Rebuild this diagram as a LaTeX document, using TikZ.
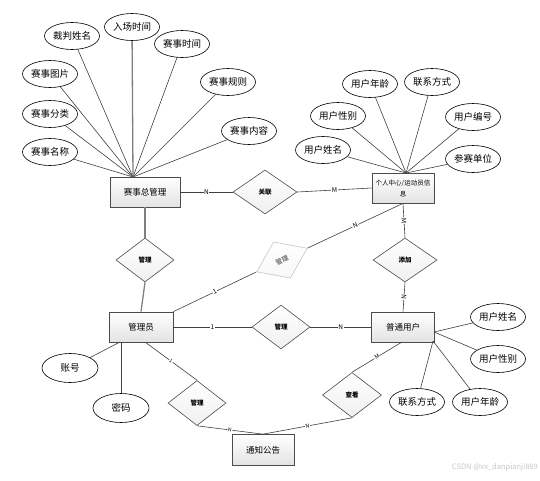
\documentclass[tikz,border=0pt]{standalone}
\usepackage{fontspec}
\setmainfont{Noto Sans CJK SC}
\usetikzlibrary{shapes.geometric}
\begin{document}
\begin{tikzpicture}[x=1pt,y=-1pt,
  attr/.style={ellipse,draw=black,line width=0.6pt,fill=white,minimum width=55pt,minimum height=27pt,inner sep=0pt,font=\fontsize{9.5}{10}\selectfont},
  ent/.style={rectangle,draw=gray!60!black,line width=0.7pt,top color=white,bottom color=gray!22,minimum width=64pt,minimum height=30pt,inner sep=1pt,font=\fontsize{8.5}{10}\selectfont},
  rel/.style={diamond,draw=gray!60!black,line width=0.6pt,top color=white,bottom color=gray!12,minimum width=60pt,minimum height=44pt,inner sep=0pt,aspect=1.35,font=\bfseries\fontsize{6.5}{7}\selectfont},
  ln/.style={draw=black!75,line width=0.6pt},
  thick ln/.style={draw=gray,line width=1.3pt},
  lab/.style={fill=white,inner sep=0.6pt,font=\fontsize{6.5}{7}\selectfont}
]
\useasboundingbox (0,0) rectangle (540,480);
\fill[white] (0,0) rectangle (540,480);

% entities
\node[ent,minimum width=70pt] (zg) at (145,192) {赛事总管理};
\node[ent,minimum width=62pt,align=center,font=\fontsize{6.5}{11}\selectfont] (gr) at (403,188) {个人中心/运动员信\\息};
\node[ent] (gly) at (141,327) {管理员};
\node[ent,minimum width=63pt] (pt) at (403,327) {普通用户};
\node[ent,minimum width=62pt,minimum height=31pt] (tz) at (263,450) {通知公告};

% relationships
\node[rel,minimum width=64pt] (gl1) at (265,192) {关联};
\node[rel,minimum width=58pt] (gl2) at (145,260) {管理};
\node[rel,minimum width=56pt,minimum height=40pt,rotate=25,draw=gray!45,top color=white,bottom color=gray!6,text=gray] (gl3) at (282,260) {管理};
\node[rel,minimum width=64pt] (tj) at (405,260) {添加};
\node[rel,minimum width=58pt] (gl4) at (281,327) {管理};
\node[rel,minimum width=58pt,minimum height=45pt] (gl5) at (197,403) {管理};
\node[rel,minimum width=59pt,minimum height=45pt] (ck) at (352,395) {查看};

% attributes of 赛事总管理
\coordinate (zgp) at (133,177);
\node[attr] (a1) at (72,36) {裁判姓名};
\node[attr] (a2) at (132,27) {入场时间};
\node[attr] (a3) at (182,44) {赛事时间};
\node[attr] (a4) at (50,74) {赛事图片};
\node[attr] (a5) at (228,82) {赛事规则};
\node[attr] (a6) at (50,114) {赛事分类};
\node[attr] (a7) at (249,131) {赛事内容};
\node[attr] (a8) at (50,152) {赛事名称};
\foreach \a in {a1,a3,a4,a5,a6,a7,a8} \draw[ln] (\a) -- (zgp);
\draw[thick ln] (a2) -- (zgp);

% attributes of 个人中心
\coordinate (grp) at (406,173);
\node[attr] (b1) at (370,84) {用户年龄};
\node[attr] (b2) at (432,82) {联系方式};
\node[attr] (b3) at (338,116) {用户性别};
\node[attr] (b4) at (473,117) {用户编号};
\node[attr] (b5) at (323,150) {用户姓名};
\node[attr] (b6) at (473,159) {参赛单位};
\foreach \b in {b1,b2,b3,b4,b5,b6} \draw[ln] (\b) -- (grp);

% attributes of 普通用户
\coordinate (pt1) at (434,332);
\coordinate (pt2) at (433,341);
\node[attr] (c1) at (498,317) {用户姓名};
\node[attr] (c2) at (498,359) {用户性别};
\node[attr] (c3) at (417,402) {联系方式};
\node[attr] (c4) at (480,402) {用户年龄};
\draw[ln] (pt1) -- (c1);
\draw[ln] (pt1) -- (c2);
\draw[ln] (pt2) -- (c3);
\draw[ln] (pt2) -- (c4);

% attributes of 管理员
\coordinate (gy1) at (120,342);
\coordinate (gy2) at (121,342);
\node[attr,minimum width=56pt,minimum height=29pt] (d1) at (70,368) {账号};
\node[attr,minimum width=56pt,minimum height=29pt] (d2) at (121,408) {密码};
\draw[ln] (gy1) -- (d1);
\draw[ln] (gy2) -- (d2.north);

% connectors
\draw[ln] (zg.east) -- node[lab]{N} (gl1.west);
\draw[ln] (gl1.east) -- node[lab]{M} (gr.west);
\draw[thick ln] (zg.south) -- (gl2.north);
\draw[thick ln] (gl2.south) -- (gly.north);
\draw[ln] (gly.north east) -- node[lab,sloped]{1} (gl3.west);
\draw[ln] (gl3.east) -- node[lab,sloped]{N} (gr.south);
\draw[ln] (gr.south) -- node[lab,sloped]{M} (tj.north);
\draw[ln] (tj.south) -- node[lab,sloped]{N} (pt.north);
\draw[ln] (gly.east) -- node[lab]{1} (gl4.west);
\draw[ln] (gl4.east) -- node[lab]{N} (pt.west);
\coordinate (gys) at (145,342);
\draw[ln] (gys) -- node[lab,sloped,font=\fontsize{5}{6}\selectfont]{1} (gl5.north);
\draw[ln] (gl5.south) -- node[lab,sloped,font=\fontsize{5}{6}\selectfont]{N} (tz.north);
\coordinate (pts) at (402,342);
\draw[ln] (pts) -- node[lab,sloped,font=\fontsize{5.5}{6}\selectfont]{M} (ck.north);
\draw[ln] (ck.south) -- node[lab,sloped,font=\fontsize{5.5}{6}\selectfont]{N} (tz.north);

% watermark
\node[anchor=east,text=gray!45,inner sep=0pt,font=\fontsize{7.5}{8}\selectfont] (wm) at (538,467) {CSDN @vx\_danpianji889};
\end{tikzpicture}
\end{document}
